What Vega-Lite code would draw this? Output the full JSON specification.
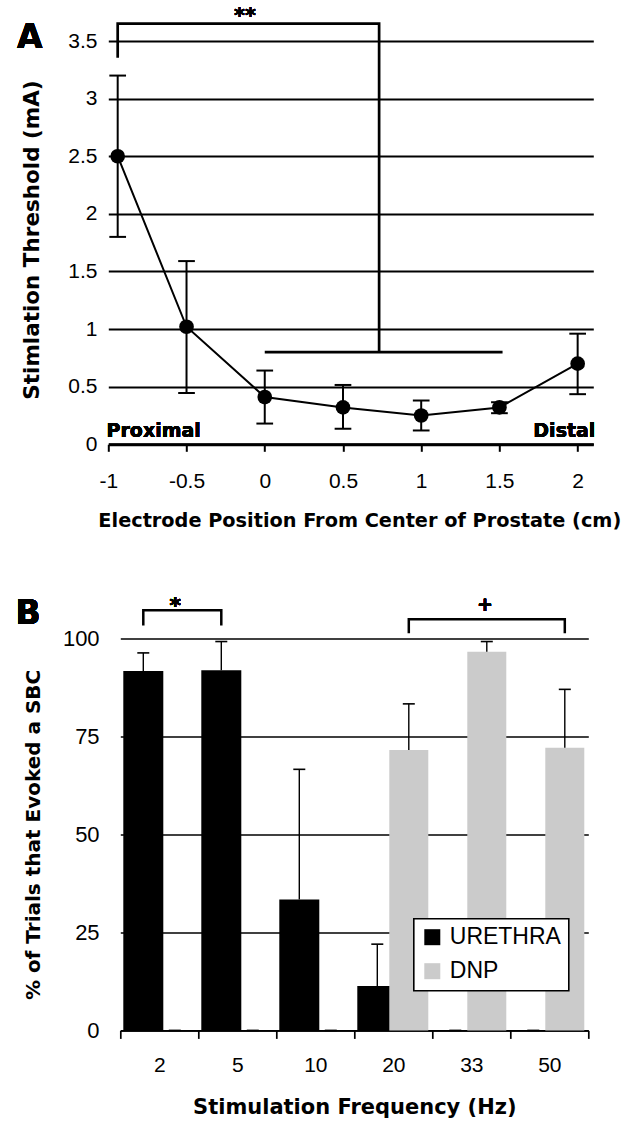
{
  "$schema": "https://vega.github.io/schema/vega-lite/v6.json",
  "background": "white",
  "padding": {"left": 15.3, "top": 5, "right": 5, "bottom": 5},
  "bounds": "flush",
  "spacing": 193.4,
  "resolve": {"scale": {"color": "independent"}, "legend": {"color": "independent"}},
  "config": {
    "view": {"stroke": null},
    "axis": {
      "labelFont": "Liberation Sans",
      "titleFont": "DejaVu Sans",
      "titleFontWeight": "bold",
      "labelColor": "#000000",
      "titleColor": "#000000",
      "domainColor": "#000000",
      "tickColor": "#000000",
      "gridColor": "#000000",
      "gridOpacity": 1
    },
    "legend": {"strokeWidth": 1.6}
  },
  "datasets": {
    "threshold": [
      {"pos": -0.94, "thr": 2.5, "lo": 1.8, "hi": 3.2},
      {"pos": -0.5, "thr": 1.02, "lo": 0.445, "hi": 1.59},
      {"pos": 0, "thr": 0.41, "lo": 0.18, "hi": 0.64},
      {"pos": 0.5, "thr": 0.32, "lo": 0.135, "hi": 0.515},
      {"pos": 1, "thr": 0.25, "lo": 0.12, "hi": 0.38},
      {"pos": 1.5, "thr": 0.32, "lo": 0.27, "hi": 0.365},
      {"pos": 2, "thr": 0.7, "lo": 0.435, "hi": 0.96}
    ],
    "bracketA": [
      {"seg": "a", "i": 0, "bx": -0.94, "by": 3.355},
      {"seg": "a", "i": 1, "bx": -0.94, "by": 3.65},
      {"seg": "a", "i": 2, "bx": 0.731, "by": 3.65},
      {"seg": "a", "i": 3, "bx": 0.731, "by": 0.8},
      {"seg": "b", "i": 0, "bx": 0, "by": 0.8},
      {"seg": "b", "i": 1, "bx": 1.52, "by": 0.8}
    ],
    "sbc": [
      {"freq": "2", "series": "URETHRA", "pct": 91.7, "top": 96.3},
      {"freq": "5", "series": "URETHRA", "pct": 91.9, "top": 99.2},
      {"freq": "10", "series": "URETHRA", "pct": 33.4, "top": 66.6},
      {"freq": "20", "series": "URETHRA", "pct": 11.3, "top": 22.0},
      {"freq": "33", "series": "URETHRA", "pct": 0, "top": 0},
      {"freq": "50", "series": "URETHRA", "pct": 0, "top": 0},
      {"freq": "2", "series": "DNP", "pct": 0, "top": 0},
      {"freq": "5", "series": "DNP", "pct": 0, "top": 0},
      {"freq": "10", "series": "DNP", "pct": 0, "top": 0},
      {"freq": "20", "series": "DNP", "pct": 71.5, "top": 83.3},
      {"freq": "33", "series": "DNP", "pct": 96.6, "top": 99.2},
      {"freq": "50", "series": "DNP", "pct": 72.1, "top": 87.0}
    ],
    "bracketB": [
      {"grp": "star", "i": 0, "freq": "2", "by": 103.3},
      {"grp": "star", "i": 1, "freq": "2", "by": 107.2},
      {"grp": "star", "i": 2, "freq": "5", "by": 107.2},
      {"grp": "star", "i": 3, "freq": "5", "by": 103.3},
      {"grp": "plus", "i": 0, "freq": "20", "by": 101.3},
      {"grp": "plus", "i": 1, "freq": "20", "by": 104.9},
      {"grp": "plus", "i": 2, "freq": "50", "by": 104.9},
      {"grp": "plus", "i": 3, "freq": "50", "by": 101.3}
    ]
  },
  "vconcat": [
    {
      "width": 485,
      "height": 403.3,
      "data": {"name": "threshold"},
      "layer": [
        {
          "mark": {"type": "rule", "color": "#000000", "strokeWidth": 2},
          "encoding": {
            "x": {
              "field": "pos", "type": "quantitative",
              "scale": {"domain": [-1, 2.1], "nice": false, "zero": false},
              "axis": {
                "values": [-1, -0.5, 0, 0.5, 1, 1.5, 2],
                "labelExpr": "'' + datum.value",
                "grid": false,
                "domainWidth": 3,
                "tickSize": 7,
                "tickWidth": 2,
                "labelFontSize": 21,
                "labelBaseline": "alphabetic",
                "labelPadding": 35.7,
                "labelFlush": false,
                "title": "Electrode Position From Center of Prostate (cm)",
                "titleFontSize": 19.3,
                "titleX": 251,
                "titleY": 81.7,
                "titleAlign": "center",
                "titleBaseline": "alphabetic"
              }
            },
            "y": {
              "field": "lo", "type": "quantitative",
              "scale": {"domain": [0, 3.5], "nice": false},
              "axis": {
                "values": [0, 0.5, 1, 1.5, 2, 2.5, 3, 3.5],
                "labelExpr": "'' + datum.value",
                "grid": true,
                "gridWidth": 2.2,
                "domain": false,
                "ticks": false,
                "labelFontSize": 21,
                "labelPadding": 11.3,
                "title": "Stimlation Threshold (mA)",
                "titleFontSize": 21.5,
                "titleAngle": -90,
                "titleX": -69.3,
                "titleY": 198.5,
                "titleAlign": "center",
                "titleBaseline": "alphabetic"
              }
            },
            "y2": {"field": "hi"}
          }
        },
        {
          "mark": {"type": "tick", "orient": "horizontal", "size": 16.7, "thickness": 2, "color": "#000000", "opacity": 1},
          "encoding": {
            "x": {"field": "pos", "type": "quantitative"},
            "y": {"field": "lo", "type": "quantitative"}
          }
        },
        {
          "mark": {"type": "tick", "orient": "horizontal", "size": 16.7, "thickness": 2, "color": "#000000", "opacity": 1},
          "encoding": {
            "x": {"field": "pos", "type": "quantitative"},
            "y": {"field": "hi", "type": "quantitative"}
          }
        },
        {
          "mark": {"type": "line", "color": "#000000", "strokeWidth": 2},
          "encoding": {
            "x": {"field": "pos", "type": "quantitative"},
            "y": {"field": "thr", "type": "quantitative"}
          }
        },
        {
          "mark": {"type": "point", "shape": "circle", "filled": true, "size": 215, "color": "#000000", "opacity": 1},
          "encoding": {
            "x": {"field": "pos", "type": "quantitative"},
            "y": {"field": "thr", "type": "quantitative"}
          }
        },
        {
          "data": {"name": "bracketA"},
          "mark": {"type": "line", "color": "#000000", "strokeWidth": 2.7, "strokeJoin": "miter", "strokeCap": "butt"},
          "encoding": {
            "x": {"field": "bx", "type": "quantitative"},
            "y": {"field": "by", "type": "quantitative"},
            "detail": {"field": "seg"},
            "order": {"field": "i", "type": "quantitative"}
          }
        },
        {
          "mark": {"type": "text", "text": "A", "font": "DejaVu Sans", "fontWeight": "bold", "fontSize": 33, "align": "left", "baseline": "alphabetic", "color": "#000000"},
          "encoding": {"x": {"datum": -1.584}, "y": {"datum": 3.442}}
        },
        {
          "mark": {"type": "text", "text": "**", "font": "DejaVu Sans", "fontWeight": "bold", "fontSize": 21, "align": "center", "baseline": "alphabetic", "color": "#000000"},
          "encoding": {"x": {"datum": -0.127}, "y": {"datum": 3.658}}
        },
        {
          "mark": {"type": "text", "text": "Proximal", "font": "DejaVu Sans", "fontWeight": "bold", "fontSize": 19, "align": "left", "baseline": "alphabetic", "color": "#000000"},
          "encoding": {"x": {"datum": -1.011}, "y": {"datum": 0.063}}
        },
        {
          "mark": {"type": "text", "text": "Distal", "font": "DejaVu Sans", "fontWeight": "bold", "fontSize": 19, "align": "right", "baseline": "alphabetic", "color": "#000000"},
          "encoding": {"x": {"datum": 2.113}, "y": {"datum": 0.063}}
        }
      ]
    },
    {
      "width": 480,
      "height": 392,
      "data": {"name": "sbc"},
      "layer": [
        {
          "transform": [{"filter": "datum.series === 'URETHRA'"}],
          "mark": {"type": "bar", "width": 40, "xOffset": -16},
          "encoding": {
            "x": {
              "field": "freq", "type": "nominal",
              "scale": {"domain": ["2", "5", "10", "20", "33", "50"], "range": [12, 480], "paddingInner": 0, "paddingOuter": 0},
              "axis": {
                "labelAngle": 0,
                "grid": false,
                "domainWidth": 1.7,
                "tickBand": "extent",
                "tickSize": 8,
                "tickWidth": 1.7,
                "labelFontSize": 21,
                "labelBaseline": "alphabetic",
                "labelPadding": 33.3,
                "title": "Stimulation Frequency (Hz)",
                "titleFontSize": 21,
                "titleY": 83,
                "titleBaseline": "alphabetic"
              }
            },
            "y": {
              "field": "pct", "type": "quantitative",
              "scale": {"domain": [0, 100], "nice": false},
              "axis": {
                "values": [0, 25, 50, 75, 100],
                "grid": true,
                "gridWidth": 1.5,
                "domain": false,
                "ticks": false,
                "labelFontSize": 22,
                "labelPadding": 9.2,
                "title": "% of Trials that Evoked a SBC",
                "titleFontSize": 20,
                "titleAngle": -90,
                "titleX": -68.7,
                "titleY": 196,
                "titleAlign": "center",
                "titleBaseline": "alphabetic"
              }
            },
            "color": {
              "field": "series", "type": "nominal",
              "scale": {"domain": ["URETHRA", "DNP"], "range": ["#000000", "#cbcbcb"]},
              "legend": {
                "orient": "none",
                "legendX": 305.5,
                "legendY": 280.3,
                "title": null,
                "symbolType": "square",
                "symbolSize": 256,
                "symbolStrokeWidth": 0,
                "labelFont": "Liberation Sans",
                "labelFontSize": 23,
                "labelColor": "#000000",
                "labelOffset": 6,
                "strokeColor": "#000000",
                "fillColor": "#ffffff",
                "padding": 7,
                "rowPadding": 10
              }
            }
          }
        },
        {
          "transform": [{"filter": "datum.series === 'DNP'"}],
          "mark": {"type": "bar", "width": 39, "xOffset": 15.5},
          "encoding": {
            "x": {"field": "freq", "type": "nominal"},
            "y": {"field": "pct", "type": "quantitative"},
            "color": {"field": "series", "type": "nominal"}
          }
        },
        {
          "transform": [{"filter": "datum.series === 'URETHRA'"}],
          "mark": {"type": "rule", "color": "#000000", "strokeWidth": 1.4, "xOffset": -16},
          "encoding": {
            "x": {"field": "freq", "type": "nominal"},
            "y": {"field": "pct", "type": "quantitative"},
            "y2": {"field": "top"}
          }
        },
        {
          "transform": [{"filter": "datum.series === 'URETHRA'"}],
          "mark": {"type": "tick", "orient": "horizontal", "size": 12, "thickness": 1.6, "color": "#000000", "opacity": 1, "xOffset": -16},
          "encoding": {
            "x": {"field": "freq", "type": "nominal"},
            "y": {"field": "top", "type": "quantitative"}
          }
        },
        {
          "transform": [{"filter": "datum.series === 'DNP'"}],
          "mark": {"type": "rule", "color": "#000000", "strokeWidth": 1.4, "xOffset": 15.5},
          "encoding": {
            "x": {"field": "freq", "type": "nominal"},
            "y": {"field": "pct", "type": "quantitative"},
            "y2": {"field": "top"}
          }
        },
        {
          "transform": [{"filter": "datum.series === 'DNP'"}],
          "mark": {"type": "tick", "orient": "horizontal", "size": 12, "thickness": 1.6, "color": "#000000", "opacity": 1, "xOffset": 15.5},
          "encoding": {
            "x": {"field": "freq", "type": "nominal"},
            "y": {"field": "top", "type": "quantitative"}
          }
        },
        {
          "data": {"name": "bracketB"},
          "transform": [{"filter": "datum.grp === 'star'"}],
          "mark": {"type": "line", "color": "#000000", "strokeWidth": 2.5, "strokeJoin": "miter", "strokeCap": "butt", "xOffset": -16},
          "encoding": {
            "x": {"field": "freq", "type": "nominal"},
            "y": {"field": "by", "type": "quantitative"},
            "order": {"field": "i", "type": "quantitative"}
          }
        },
        {
          "data": {"name": "bracketB"},
          "transform": [{"filter": "datum.grp === 'plus'"}],
          "mark": {"type": "line", "color": "#000000", "strokeWidth": 2.5, "strokeJoin": "miter", "strokeCap": "butt", "xOffset": 15.5},
          "encoding": {
            "x": {"field": "freq", "type": "nominal"},
            "y": {"field": "by", "type": "quantitative"},
            "order": {"field": "i", "type": "quantitative"}
          }
        },
        {
          "mark": {"type": "text", "text": "*", "font": "DejaVu Sans", "fontWeight": "bold", "fontSize": 22, "align": "center", "baseline": "alphabetic", "color": "#000000"},
          "encoding": {"x": {"datum": "2", "type": "nominal", "bandPosition": 0.704}, "y": {"datum": 106.4, "type": "quantitative"}}
        },
        {
          "mark": {"type": "text", "text": "+", "font": "DejaVu Sans", "fontWeight": "bold", "fontSize": 19, "align": "center", "baseline": "alphabetic", "color": "#000000"},
          "encoding": {"x": {"datum": "33", "type": "nominal", "bandPosition": 0.676}, "y": {"datum": 107.0, "type": "quantitative"}}
        },
        {
          "mark": {"type": "text", "text": "B", "font": "DejaVu Sans", "fontWeight": "bold", "fontSize": 33, "align": "left", "baseline": "alphabetic", "color": "#000000"},
          "encoding": {"x": {"datum": "2", "type": "nominal", "bandPosition": -1.342}, "y": {"datum": 103.6, "type": "quantitative"}}
        }
      ]
    }
  ]
}
